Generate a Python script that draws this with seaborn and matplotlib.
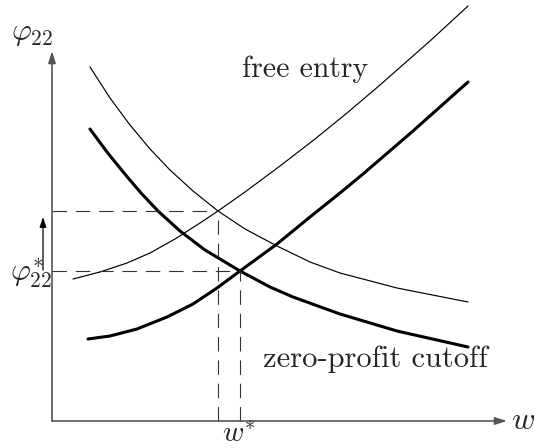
import matplotlib
matplotlib.use("Agg")
import matplotlib.pyplot as plt
import seaborn as sns
import pandas as pd

# Wage w (horizontal) and productivity cutoff phi_22 (vertical), arbitrary units
thin_down_w = [38, 58, 78, 98, 118, 141, 166, 193, 225, 258, 288, 345, 416]
thin_down_phi = [354, 323, 296, 272, 251, 230, 210, 192, 175, 159, 148, 133, 119]

thin_up_w = [21, 48, 75, 98, 123, 148, 166, 193, 228, 263, 295, 328, 378, 416]
thin_up_phi = [142, 149, 158, 168, 182, 198, 210, 229, 255, 282, 308, 336, 380, 415]

thick_down_w = [38, 55, 72, 89, 106, 128, 153, 188, 218, 241, 288, 345, 416]
thick_down_phi = [292, 269, 248, 228, 210, 190, 171, 150, 134, 124, 107, 90, 74]

thick_up_w = [36, 58, 85, 115, 141, 165, 188, 225, 258, 288, 311, 361, 416]
thick_up_phi = [82, 85, 92, 104, 117, 133, 150, 177, 204, 228, 247, 290, 339]

# equilibrium points
w_shift, phi_shift = 166, 210
w_star, phi_star = 188, 150

labels = {"y": r"$\varphi_{22}$", "x": r"$w$", "w_star": r"$w^{*}$",
          "phi_star": r"$\varphi^{*}_{22}$",
          "upper": "free entry", "lower": "zero-profit cutoff"}

sns.set_style("white")
plt.rcParams["mathtext.fontset"] = "cm"

fig = plt.figure(figsize=(5.36, 4.48), dpi=100)
ax = fig.add_axes([0, 0, 1, 1])
ax.set_xlim(-52, 484)
ax.set_ylim(-27, 421)
ax.axis("off")

curves = [
    (thin_down_w, thin_down_phi, 0.85),
    (thin_up_w, thin_up_phi, 0.85),
    (thick_down_w, thick_down_phi, 2.2),
    (thick_up_w, thick_up_phi, 2.2),
]
for w, phi, lw in curves:
    df = pd.DataFrame({"w": w, "phi": phi})
    sns.lineplot(data=df, x="w", y="phi", sort=False, estimator=None,
                 color="black", lw=lw, ax=ax)

# dashed guides to the two intersections
dash = dict(color="#333333", lw=0.8, dashes=(13, 8))
for wx, py in [(w_shift, phi_shift), (w_star, phi_star)]:
    ax.plot([0, wx], [py, py], **dash)
    ax.plot([wx, wx], [0, py], **dash)

# coordinate axes with arrowheads
axis_col = "#555555"
head = "-|>,head_length=0.7,head_width=0.22"
ax.annotate("", xy=(455, 0), xytext=(0, 0),
            arrowprops=dict(arrowstyle=head, color=axis_col, lw=1.2,
                            shrinkA=0, shrinkB=0))
ax.annotate("", xy=(0, 370), xytext=(0, 0),
            arrowprops=dict(arrowstyle=head, color=axis_col, lw=1.2,
                            shrinkA=0, shrinkB=0))
# upward shift of the cutoff
ax.annotate("", xy=(-9, 204), xytext=(-9, 151),
            arrowprops=dict(arrowstyle="-|>,head_length=0.6,head_width=0.2",
                            color="black", lw=0.9, shrinkA=0, shrinkB=0))

ax.text(-20, 388, labels["y"], fontsize=22, ha="center", va="center")
ax.text(471, 1, labels["x"], fontsize=23, ha="center", va="center")
ax.text(w_star - 1, -13, labels["w_star"], fontsize=21, ha="center", va="center")
ax.text(-21, phi_star - 3, labels["phi_star"], fontsize=22, ha="center", va="center")

ax.text(190, 344, labels["upper"], fontsize=21.5, family="cmr10",
        ha="left", va="baseline")
ax.text(211, 54, labels["lower"], fontsize=22, family="cmr10",
        ha="left", va="baseline")

fig.savefig("out.png", dpi=100)
